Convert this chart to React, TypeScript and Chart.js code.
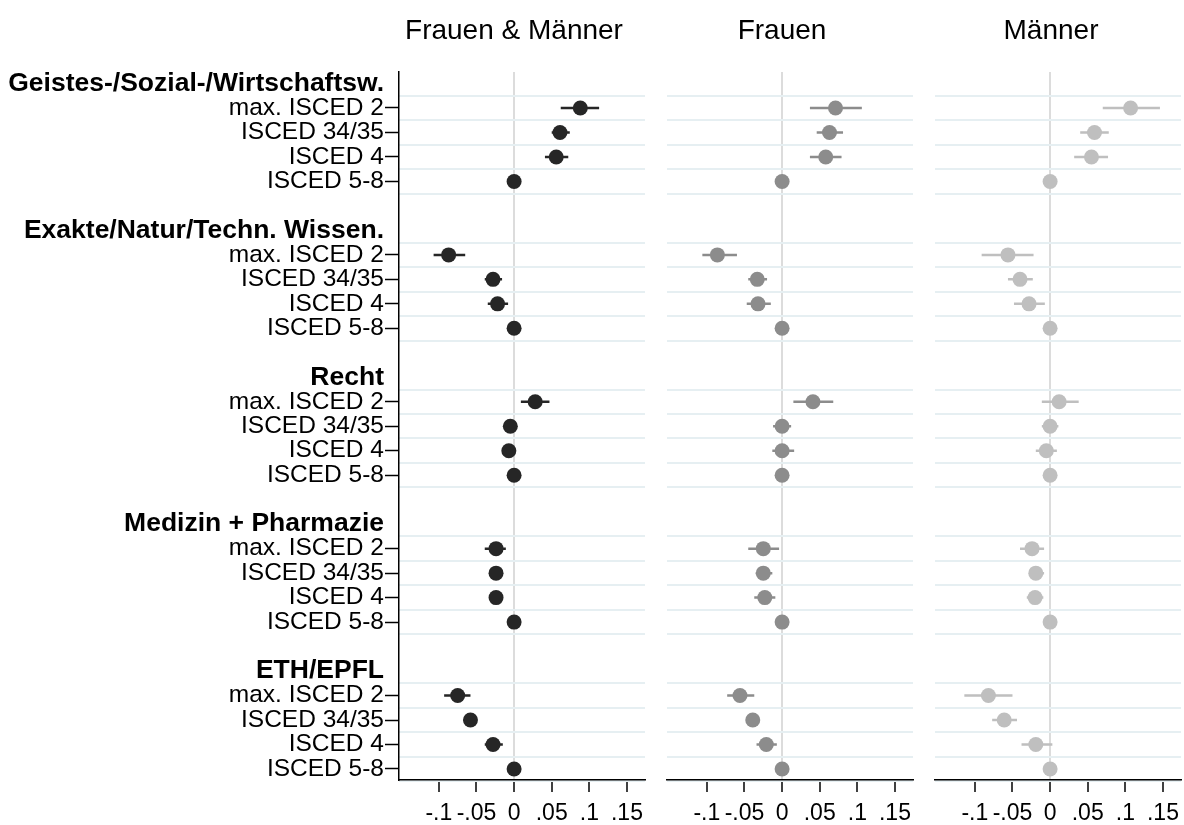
import React, { useEffect, useRef } from "react";
import { Chart, registerables } from "chart.js";

Chart.register(...registerables);

const groupNames = [
  "Geistes-/Sozial-/Wirtschaftsw.",
  "Exakte/Natur/Techn. Wissen.",
  "Recht",
  "Medizin + Pharmazie",
  "ETH/EPFL",
];
const levelNames = ["max. ISCED 2", "ISCED 34/35", "ISCED 4", "ISCED 5-8"];

const panelTitles = ["Frauen & Männer", "Frauen", "Männer"];

// Frauen & Männer
const coefAll = [0.088, 0.061, 0.056, 0, -0.087, -0.028, -0.022, 0, 0.028, -0.005, -0.007, 0, -0.024, -0.024, -0.024, 0, -0.075, -0.058, -0.028, 0];
const loAll = [0.062, 0.05, 0.041, 0, -0.107, -0.039, -0.035, 0, 0.009, -0.009, -0.011, 0, -0.039, -0.028, -0.028, 0, -0.093, -0.062, -0.039, 0];
const hiAll = [0.113, 0.074, 0.072, 0, -0.065, -0.016, -0.008, 0, 0.047, -0.001, -0.003, 0, -0.011, -0.02, -0.02, 0, -0.058, -0.054, -0.015, 0];

// Frauen
const coefWomen = [0.071, 0.063, 0.058, 0, -0.086, -0.033, -0.032, 0, 0.041, 0.0, 0.0, 0, -0.025, -0.025, -0.023, 0, -0.056, -0.039, -0.021, 0];
const loWomen = [0.037, 0.046, 0.037, 0, -0.106, -0.045, -0.047, 0, 0.015, -0.012, -0.013, 0, -0.045, -0.035, -0.037, 0, -0.073, -0.043, -0.034, 0];
const hiWomen = [0.106, 0.081, 0.079, 0, -0.06, -0.02, -0.015, 0, 0.068, 0.012, 0.016, 0, -0.004, -0.013, -0.009, 0, -0.037, -0.034, -0.007, 0];

// Männer
const coefMen = [0.107, 0.059, 0.055, 0, -0.056, -0.04, -0.028, 0, 0.012, 0.0, -0.005, 0, -0.024, -0.019, -0.02, 0, -0.082, -0.061, -0.019, 0];
const loMen = [0.07, 0.04, 0.032, 0, -0.091, -0.056, -0.048, 0, -0.011, -0.011, -0.019, 0, -0.04, -0.027, -0.031, 0, -0.114, -0.077, -0.038, 0];
const hiMen = [0.146, 0.078, 0.077, 0, -0.022, -0.023, -0.007, 0, 0.038, 0.011, 0.009, 0, -0.008, -0.008, -0.009, 0, -0.05, -0.044, 0.003, 0];

const xTickValues = [-0.1, -0.05, 0, 0.05, 0.1, 0.15];
const xTickLabels = ["-.1", "-.05", "0", ".05", ".1", ".15"];

const FONT = "'Liberation Sans', Arial, Helvetica, sans-serif";
const X_MIN = -0.153;
const X_MAX = 0.174;
const Y_MIN = -0.47;
const Y_MAX = 28.45;

// row layout: each group = header + 4 levels + gap
const rowPos: number[] = [];
const rowLabels: string[] = [];
const rowIsHeader: boolean[] = [];
groupNames.forEach((g, gi) => {
  rowPos.push(gi * 6);
  rowLabels.push(g);
  rowIsHeader.push(true);
  levelNames.forEach((l, li) => {
    rowPos.push(gi * 6 + 1 + li);
    rowLabels.push(l);
    rowIsHeader.push(false);
  });
});
const coefRow = (i: number) => Math.floor(i / 4) * 6 + 1 + (i % 4);
const gridPos: number[] = [];
groupNames.forEach((_, gi) => {
  for (let k = 0; k < 5; k++) gridPos.push(gi * 6 + 0.5 + k);
});

type PanelProps = {
  coef: number[];
  lo: number[];
  hi: number[];
  color: string;
  showLabels: boolean;
  width: number;
  padLeft: number;
  padRight: number;
};

function Panel({ coef, lo, hi, color, showLabels, width, padLeft, padRight }: PanelProps) {
  const ref = useRef<HTMLCanvasElement | null>(null);
  useEffect(() => {
    if (!ref.current) return;
    const pts = coef.map((c, i) => ({ x: c, y: coefRow(i) }));
    const bars: any[] = [];
    coef.forEach((_, i) => {
      if (lo[i] === hi[i]) return;
      bars.push({ x: lo[i], y: coefRow(i) });
      bars.push({ x: hi[i], y: coefRow(i) });
      bars.push({ x: null, y: null });
    });
    const chart = new Chart(ref.current, {
      type: "scatter",
      data: {
        datasets: [
          {
            data: pts,
            pointRadius: 7.5,
            pointHoverRadius: 7.5,
            backgroundColor: color,
            borderWidth: 0,
            clip: false,
          } as any,
          {
            data: bars,
            showLine: true,
            spanGaps: false,
            pointRadius: 0,
            pointHoverRadius: 0,
            borderColor: color,
            borderWidth: 2.5,
            clip: false,
          } as any,
        ],
      },
      options: {
        animation: false,
        responsive: false,
        devicePixelRatio: 1,
        events: [],
        layout: { autoPadding: false, padding: { top: 72, left: padLeft, right: padRight, bottom: 0 } },
        plugins: { legend: { display: false }, tooltip: { enabled: false }, title: { display: false } },
        scales: {
          x: {
            type: "linear",
            min: X_MIN,
            max: X_MAX,
            afterBuildTicks: (s: any) => {
              s.ticks = xTickValues.map((v) => ({ value: v }));
            },
            afterFit: (s: any) => {
              s.height = 45;
              s.paddingLeft = 0;
              s.paddingRight = 0;
            },
            ticks: {
              autoSkip: false,
              maxRotation: 0,
              padding: 8,
              color: "#000",
              font: { family: FONT, size: 23 },
              callback: (v: any) => {
                const idx = xTickValues.findIndex((t) => Math.abs(t - Number(v)) < 1e-9);
                return idx >= 0 ? xTickLabels[idx] : "";
              },
            },
            grid: {
              color: (ctx: any) => (ctx.tick && ctx.tick.value === 0 ? "#dcdcdc" : "rgba(0,0,0,0)"),
              lineWidth: 2,
              tickColor: "#000",
              tickWidth: 1.5,
              tickLength: 12,
            },
            border: { display: true, color: "#000", width: 1.5 },
          },
          y: {
            type: "linear",
            display: showLabels,
            reverse: true,
            min: Y_MIN,
            max: Y_MAX,
            afterBuildTicks: (s: any) => {
              s.ticks = rowPos.map((v) => ({ value: v }));
            },
            afterFit: (s: any) => {
              s.width = showLabels ? 399 - padLeft : 0;
              s.paddingTop = 0;
              s.paddingBottom = 0;
            },
            ticks: {
              autoSkip: false,
              padding: 1,
              color: "#000",
              font: (ctx: any) => {
                const idx = rowPos.indexOf(ctx.tick ? ctx.tick.value : -1);
                const head = idx >= 0 && rowIsHeader[idx];
                return { family: FONT, size: head ? 26.5 : 24.5, weight: head ? "bold" : "normal" };
              },
              callback: (v: any) => {
                const idx = rowPos.indexOf(Number(v));
                return idx >= 0 ? rowLabels[idx] : "";
              },
            },
            grid: {
              drawOnChartArea: false,
              tickLength: 14,
              tickWidth: 1.5,
              tickColor: (ctx: any) => {
                const idx = rowPos.indexOf(ctx.tick ? ctx.tick.value : -1);
                return idx >= 0 && rowIsHeader[idx] ? "rgba(0,0,0,0)" : "#000";
              },
            },
            border: { display: true, color: "#000", width: 1.5 },
          },
          yg: {
            type: "linear",
            position: "left",
            reverse: true,
            min: Y_MIN,
            max: Y_MAX,
            afterBuildTicks: (s: any) => {
              s.ticks = gridPos.map((v) => ({ value: v }));
            },
            afterFit: (s: any) => {
              s.width = 0;
              s.paddingTop = 0;
              s.paddingBottom = 0;
            },
            ticks: { display: false },
            grid: { color: "#e6eff2", lineWidth: 2, drawTicks: false },
            border: { display: false },
          },
        } as any,
      },
    });
    return () => chart.destroy();
  }, []);
  return <canvas ref={ref} width={width} height={825} style={{ display: "block", width, height: 825 }} />;
}

const titleStyle = (center: number): React.CSSProperties => ({
  position: "absolute",
  left: center - 150,
  width: 300,
  top: 14,
  textAlign: "center",
  fontFamily: FONT,
  fontSize: 28,
  lineHeight: "32px",
  color: "#000",
  whiteSpace: "nowrap",
});

export default function App() {
  return (
    <div style={{ position: "fixed", left: 0, top: 0, width: 1184, height: 825, background: "#fff", overflow: "hidden" }}>
      <div style={{ position: "absolute", left: 0, top: 0 }}>
        <Panel coef={coefAll} lo={loAll} hi={hiAll} color="#262626" showLabels={true} width={650} padLeft={0} padRight={5} />
      </div>
      <div style={{ position: "absolute", left: 652, top: 0 }}>
        <Panel coef={coefWomen} lo={loWomen} hi={hiWomen} color="#8c8c8c" showLabels={false} width={264} padLeft={15} padRight={3} />
      </div>
      <div style={{ position: "absolute", left: 920, top: 0 }}>
        <Panel coef={coefMen} lo={loMen} hi={hiMen} color="#bfbfbf" showLabels={false} width={264} padLeft={15} padRight={3} />
      </div>
      <div style={titleStyle(514)}>{panelTitles[0]}</div>
      <div style={titleStyle(782)}>{panelTitles[1]}</div>
      <div style={titleStyle(1051)}>{panelTitles[2]}</div>
    </div>
  );
}
